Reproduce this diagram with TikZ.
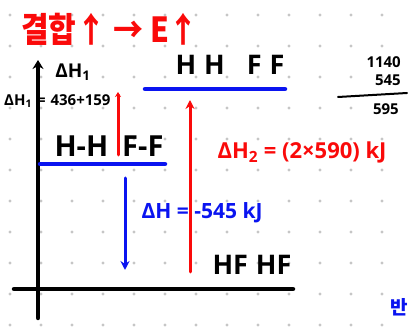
\documentclass[tikz,border=0pt]{standalone}
\usepackage{fontspec}
\setmainfont{Open Sans}
\newfontfamily\kor{Noto Sans CJK KR}
\usetikzlibrary{arrows.meta}

\definecolor{penred}{RGB}{250,10,10}
\definecolor{penblue}{RGB}{10,20,240}

\tikzset{
  axis/.style={line width=4.5pt,line cap=round},
  level/.style={penblue,line width=4.5pt,line cap=round},
  jump/.style={line width=3pt,line cap=round,-{Stealth[length=9pt,width=9pt]}},
  lbl/.style={font=\fontsize{#1}{#1}\selectfont\bfseries,inner sep=0pt},
}

\begin{document}
\begin{tikzpicture}[x=1pt,y=-1pt]
	\useasboundingbox[fill=white] (0,0) rectangle (408,331);
	% dot grid
	\foreach \i in {0,...,12}
		\foreach \j in {0,...,10}
			\fill[gray!45] (10+31*\i,15+31*\j) circle (1.6);
	% title
	\node[lbl=30,penred,yscale=1.15] (title) at (110,29) {\kor 결합↑ → E↑};
	% axes
	\coordinate (Ybot) at (38,318);
	\coordinate (Ytop) at (38,60);
	\coordinate (Xl) at (14,289);
	\coordinate (Xr) at (293,289);
	\draw[axis,-{Stealth[length=9pt,width=11pt]}] (Ybot) -- (Ytop);
	\draw[axis] (Xl) -- (Xr);
	\node[lbl=19] (dH1) at (73,72) {ΔH\textsubscript{1}};
	\node[lbl=15,anchor=west] (dH1sum) at (4,101) {ΔH\textsubscript{1}\hspace{5pt}=\hspace{5pt}436+159};
	% levels
	\coordinate (U1) at (145,89);
	\coordinate (U2) at (285,89);
	\coordinate (L1) at (40,164);
	\coordinate (L2) at (165,164);
	\draw[level] (U1) -- (U2);
	\draw[level] (L1) -- (L2);
	\node[lbl=27] (atoms) at (230,65) {H\hspace{8pt}H\hspace{22pt}F\hspace{8pt}F};
	\node[lbl=29] (mols) at (109,146) {H-H\hspace{14pt}F-F};
	\node[lbl=27] (prod) at (252,265) {HF\hspace{8pt}HF};
	% arrows
	\coordinate (A1) at (118,155);
	\coordinate (A2) at (118,92);
	\coordinate (B1) at (190,272);
	\coordinate (B2) at (190,100);
	\coordinate (C1) at (125,178);
	\coordinate (C2) at (125,270);
	\draw[jump,penred,-{Stealth[length=5pt,width=6pt]}] (A1) -- (A2);
	\draw[jump,penred] (B1) -- (B2);
	\draw[jump,penblue] (C1) -- (C2);
	\node[lbl=22,penred] (dH2) at (302,152) {ΔH\textsubscript{2} = (2×590) kJ};
	\node[lbl=21,penblue] (dH) at (202,213) {ΔH = -545 kJ};
	% side calculation
	\node[lbl=15,anchor=east] (n1) at (401,62) {1140};
	\node[lbl=15,anchor=east] (n2) at (401,80) {545};
	\coordinate (S1) at (338,97);
	\coordinate (S2) at (407,93);
	\draw[line width=2pt,line cap=round] (S1) -- (S2);
	\node[lbl=15,anchor=east] (n3) at (399,109) {595};
	\node[lbl=19,penblue,anchor=west] (note) at (390,307) {\kor 반};
\end{tikzpicture}
\end{document}
